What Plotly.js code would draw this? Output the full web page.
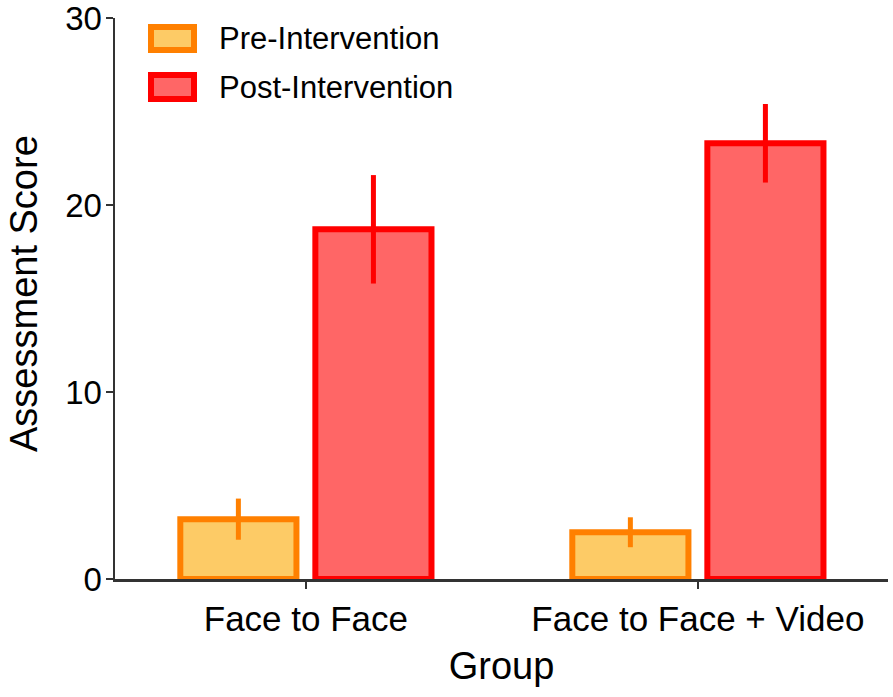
<!DOCTYPE html>
<html>
<head>
<meta charset="utf-8">
<script src="https://cdn.plot.ly/plotly-3.0.1.min.js"></script>
<style>html,body{margin:0;padding:0;background:#fff;}#chart{width:893px;height:697px;}</style>
</head>
<body>
<div id="chart"></div>
<script>
// ---- data ----
const groups = ["Face to Face", "Face to Face + Video"];
const seriesNames = ["Pre-Intervention", "Post-Intervention"];
const preValues = [3.2, 2.5];
const preErrors = [1.1, 0.8];
const postValues = [18.7, 23.3];
const postErrors = [2.9, 2.1];
const yTicks = [0, 10, 20, 30];
const xTitle = "Group";
const yTitle = "Assessment Score";

// ---- styles ----
const preFill = "#FDCB66", preLine = "#FF8000";
const postFill = "#FF6666", postLine = "#FF0000";
const FONT = "Liberation Sans, Arial, Helvetica, sans-serif";

const W = 893, H = 697;
const M = {l: 115, r: 5, t: 18, b: 118};
const PW = W - M.l - M.r, PH = H - M.t - M.b;
const px = x => (x - M.l) / PW;
const py = y => (H - M.b - y) / PH;

const traces = [
  {type: "bar", name: seriesNames[0], x: groups, y: preValues,
   marker: {color: preFill, line: {color: preLine, width: 6}},
   error_y: {type: "data", array: preErrors, visible: true, color: preLine, thickness: 5, width: 0},
   showlegend: false, hoverinfo: "skip"},
  {type: "bar", name: seriesNames[1], x: groups, y: postValues,
   marker: {color: postFill, line: {color: postLine, width: 6}},
   error_y: {type: "data", array: postErrors, visible: true, color: postLine, thickness: 5, width: 0},
   showlegend: false, hoverinfo: "skip"}
];

const legendItems = [
  {name: seriesNames[0], fill: preFill, line: preLine, y0: 27, y1: 50},
  {name: seriesNames[1], fill: postFill, line: postLine, y0: 75, y1: 99}
];
const shapes = legendItems.map(it => ({
  type: "rect", xref: "paper", yref: "paper",
  x0: px(151), x1: px(194), y0: py(it.y1), y1: py(it.y0),
  fillcolor: it.fill, line: {color: it.line, width: 6}
}));
const annotations = legendItems.map(it => ({
  xref: "paper", yref: "paper", x: px(217), y: py((it.y0 + it.y1) / 2),
  xanchor: "left", yanchor: "middle", text: it.name, showarrow: false,
  font: {family: FONT, size: 31, color: "#000"}
}));
annotations.push({
  xref: "paper", yref: "paper", x: px(24), y: py(294),
  xanchor: "center", yanchor: "middle", textangle: -90, showarrow: false,
  text: yTitle, font: {family: FONT, size: 38, color: "#000"}
});

const axisCol = "#333333";
const layout = {
  width: W, height: H, margin: M,
  paper_bgcolor: "#fff", plot_bgcolor: "#fff",
  barmode: "group", bargap: 0.311, bargroupgap: 0.14,
  showlegend: false,
  font: {family: FONT, color: "#000"},
  xaxis: {
    type: "category", range: [-0.487, 1.485],
    showline: true, linecolor: axisCol, linewidth: 2.5,
    ticks: "outside", ticklen: 7, tickwidth: 2, tickcolor: axisCol,
    showgrid: false, zeroline: false, fixedrange: true,
    tickfont: {family: FONT, size: 35, color: "#000"},
    title: {text: xTitle, font: {family: FONT, size: 38, color: "#000"}, standoff: 16},
    automargin: false
  },
  yaxis: {
    range: [0, 30], tickvals: yTicks, ticktext: yTicks.map(String),
    showline: true, linecolor: axisCol, linewidth: 2.5,
    ticks: "outside", ticklen: 7, tickwidth: 2, tickcolor: axisCol,
    ticklabelstandoff: -3, ticklabeloverflow: "allow",
    showgrid: false, zeroline: false, fixedrange: true,
    tickfont: {family: FONT, size: 33, color: "#000"},
    automargin: false
  },
  shapes: shapes,
  annotations: annotations
};

Plotly.newPlot("chart", traces, layout, {displayModeBar: false, staticPlot: true});
</script>
</body>
</html>
